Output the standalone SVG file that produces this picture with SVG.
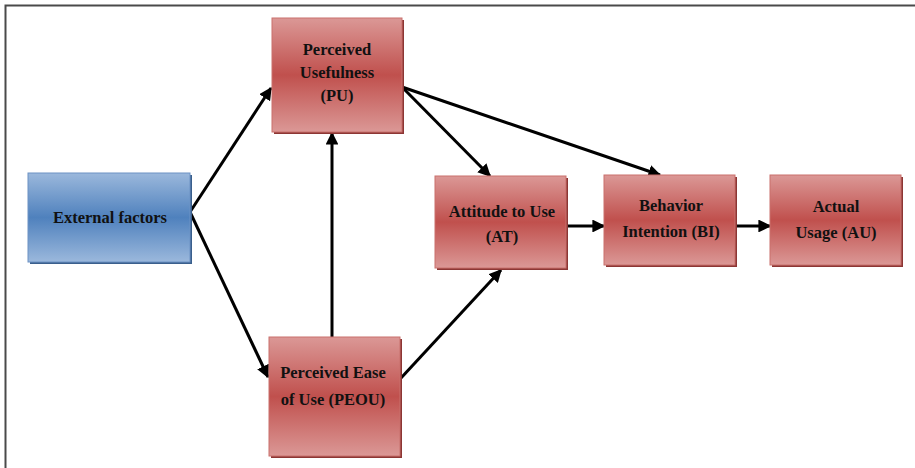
<svg xmlns="http://www.w3.org/2000/svg" width="915" height="468" viewBox="0 0 915 468">
<defs>
<linearGradient id="gr" x1="0" y1="0" x2="0" y2="1">
<stop offset="0" stop-color="#db9896"/>
<stop offset="0.5" stop-color="#c0504d"/>
<stop offset="1" stop-color="#db9896"/>
</linearGradient>
<linearGradient id="gb" x1="0" y1="0" x2="0" y2="1">
<stop offset="0" stop-color="#9bb8dc"/>
<stop offset="0.5" stop-color="#4f81bd"/>
<stop offset="1" stop-color="#9bb8dc"/>
</linearGradient>
<marker id="ah" viewBox="0 0 10 10" refX="9" refY="5" markerWidth="4.3" markerHeight="4.3" orient="auto" markerUnits="strokeWidth">
<path d="M0,0 L10,5 L0,10 Z" fill="#000"/>
</marker>
</defs>
<style>
.r{fill:url(#gr);stroke:#c9706d;stroke-width:1}
.b{fill:url(#gb);stroke:#6d92c4;stroke-width:1}
.sr{fill:#8c3634}
.sb{fill:#3a5f8c}
.t{font-family:"Liberation Serif","Times New Roman",serif;font-weight:bold;font-size:16.5px;fill:#111;text-anchor:middle}
.c{fill:none;stroke:#000;stroke-width:3;marker-end:url(#ah)}
</style>
<rect width="915" height="468" fill="#fff"/>
<path d="M5.5,468 V5.5 H915" fill="none" stroke="#4a4a4a" stroke-width="2"/>
<g id="connectors">
<line class="c" x1="190" y1="212" x2="271" y2="88"/>
<line class="c" x1="190" y1="212" x2="268" y2="377"/>
<line class="c" x1="332" y1="337" x2="332" y2="133"/>
<line class="c" x1="402" y1="87" x2="490" y2="176"/>
<line class="c" x1="402" y1="87" x2="660" y2="175"/>
<line class="c" x1="401" y1="378" x2="501" y2="270"/>
<line class="c" x1="567" y1="226" x2="604" y2="226"/>
<line class="c" x1="735" y1="226" x2="770" y2="226"/>
</g>
<g id="ef">
<rect class="sb" x="30" y="175" width="162" height="89"/>
<rect class="b" x="28" y="173" width="162" height="89"/>
<text class="t" x="110" y="223">External factors</text>
</g>
<g id="pu">
<rect class="sr" x="274" y="20" width="130" height="114"/>
<rect class="r" x="272" y="18" width="130" height="114"/>
<text class="t" x="337" y="55">Perceived</text>
<text class="t" x="337" y="78">Usefulness</text>
<text class="t" x="337" y="101">(PU)</text>
</g>
<g id="at">
<rect class="sr" x="437" y="178" width="131" height="92"/>
<rect class="r" x="435" y="176" width="131" height="92"/>
<text class="t" x="502" y="217">Attitude to Use</text>
<text class="t" x="502" y="242">(AT)</text>
</g>
<g id="bi">
<rect class="sr" x="606" y="177" width="131" height="90"/>
<rect class="r" x="604" y="175" width="131" height="90"/>
<text class="t" x="671" y="211">Behavior</text>
<text class="t" x="671" y="237">Intention (BI)</text>
</g>
<g id="au">
<rect class="sr" x="772" y="177" width="131" height="90"/>
<rect class="r" x="770" y="175" width="131" height="90"/>
<text class="t" x="836" y="212">Actual</text>
<text class="t" x="836" y="238">Usage (AU)</text>
</g>
<g id="peou">
<rect class="sr" x="271" y="339" width="131" height="119"/>
<rect class="r" x="269" y="337" width="131" height="119"/>
<text class="t" x="333" y="378">Perceived Ease</text>
<text class="t" x="333" y="405">of Use (PEOU)</text>
</g>
</svg>
